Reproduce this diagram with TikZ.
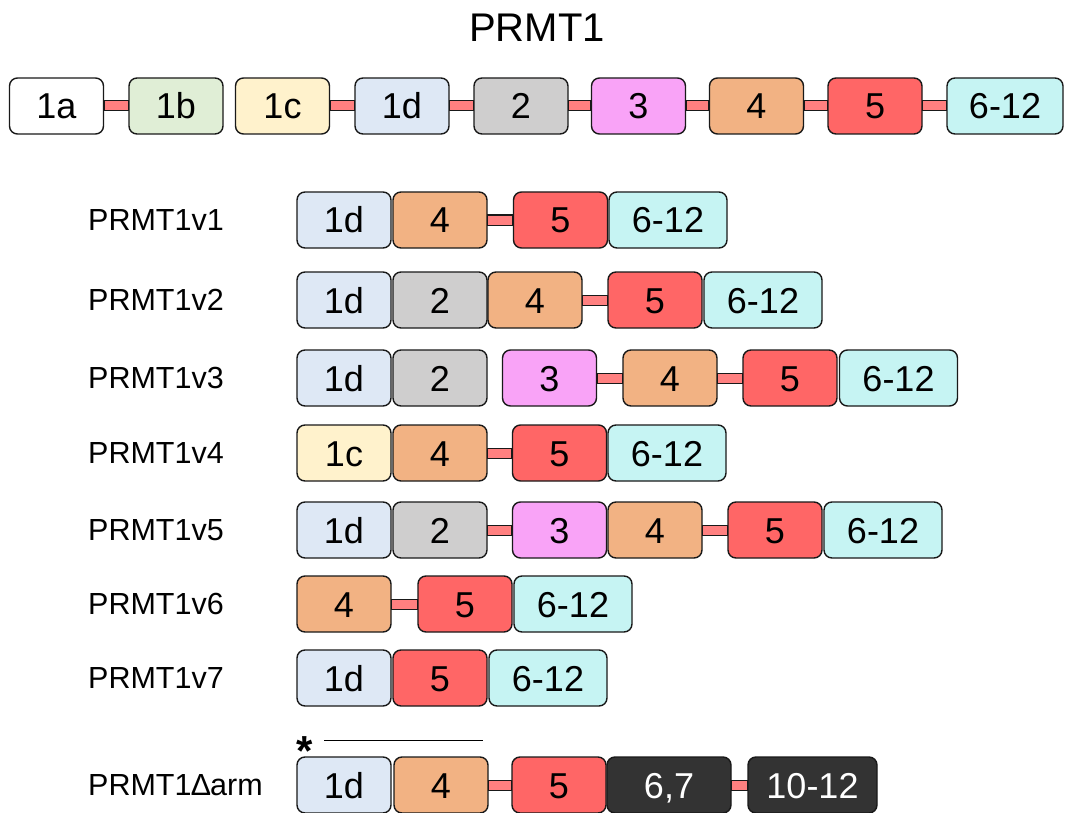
\documentclass[tikz,border=0pt]{standalone}
\usepackage{fontspec}
\setmainfont{Liberation Sans}
\begin{document}
\begin{tikzpicture}[x=1pt,y=-1pt,
  exon/.style={draw=black!90, line width=1.4pt, rounded corners=8pt,
    minimum height=56pt, inner sep=0pt, text height=26pt, text depth=0pt,
    font=\fontsize{36}{36}\selectfont},
  link/.style={draw=black!90, line width=1pt, fill=linkred},
  label/.style={anchor=west, inner sep=0pt, font=\fontsize{30.5}{30.5}\selectfont},
  eA/.style={fill=white},
  eB/.style={fill=exB},
  eC/.style={fill=exC},
  eD/.style={fill=exD},
  eTwo/.style={fill=exTwo},
  eThree/.style={fill=exThree},
  eFour/.style={fill=exFour},
  eFive/.style={fill=exFive},
  eSix/.style={fill=exSix},
  eDark/.style={fill=exDark, text=white},
  w/.style={minimum width=94pt},
  wl/.style={minimum width=118pt},
]
\definecolor{exB}{HTML}{E0EED6}
\definecolor{exC}{HTML}{FFF2CC}
\definecolor{exD}{HTML}{DEE8F5}
\definecolor{exTwo}{HTML}{CFCECE}
\definecolor{exThree}{HTML}{F9A3F7}
\definecolor{exFour}{HTML}{F2B283}
\definecolor{exFive}{HTML}{FF6666}
\definecolor{exSix}{HTML}{C6F4F3}
\definecolor{exDark}{HTML}{333333}
\definecolor{linkred}{HTML}{FF8080}

\useasboundingbox (0,0) rectangle (1065,813);

% link between two neighbouring exons
\newcommand\joinex[2]{\draw[link] ([yshift=-5pt]#1.east) rectangle ([yshift=5pt]#2.west);}

\node[font=\fontsize{40}{40}\selectfont] (title) at (537,28) {PRMT1};

% full gene
\begin{scope}
\node[exon,eA,w]  (g1a) at (56.5,106) {1a};
\node[exon,eB,w]  (g1b) at (176,106) {1b};
\node[exon,eC,w]  (g1c) at (282.5,106) {1c};
\node[exon,eD,w]  (g1d) at (402,106) {1d};
\node[exon,eTwo,w]  (g2) at (521,106) {2};
\node[exon,eThree,w] (g3) at (638.5,106) {3};
\node[exon,eFour,w]  (g4) at (756.5,106) {4};
\node[exon,eFive,w]  (g5) at (875,106) {5};
\node[exon,eSix,minimum width=116pt] (g6) at (1005,106) {6-12};
\end{scope}
\joinex{g1a}{g1b}
\joinex{g1c}{g1d}
\joinex{g1d}{g2}
\joinex{g2}{g3}
\joinex{g3}{g4}
\joinex{g4}{g5}
\joinex{g5}{g6}

% v1
\node[label] (l1) at (88,220) {PRMT1v1};
\node[exon,eD,w] (a1) at (344,220) {1d};
\node[exon,eFour,w] (a2) at (440,220) {4};
\node[exon,eFive,w] (a3) at (560.5,220) {5};
\node[exon,eSix,wl] (a4) at (668,220) {6-12};
\joinex{a2}{a3}

% v2
\node[label] (l2) at (88,300) {PRMT1v2};
\node[exon,eD,w] (b1) at (344,300) {1d};
\node[exon,eTwo,w] (b2) at (440,300) {2};
\node[exon,eFour,w] (b3) at (535,300) {4};
\node[exon,eFive,w] (b4) at (655,300) {5};
\node[exon,eSix,wl] (b5) at (763,300) {6-12};
\joinex{b3}{b4}

% v3
\node[label] (l3) at (88,378) {PRMT1v3};
\node[exon,eD,w] (c1) at (344,378) {1d};
\node[exon,eTwo,w] (c2) at (440,378) {2};
\node[exon,eThree,w] (c3) at (549.5,378) {3};
\node[exon,eFour,w] (c4) at (670,378) {4};
\node[exon,eFive,w] (c5) at (790,378) {5};
\node[exon,eSix,wl] (c6) at (898.5,378) {6-12};
\joinex{c3}{c4}
\joinex{c4}{c5}

% v4
\node[label] (l4) at (88,453) {PRMT1v4};
\node[exon,eC,w] (d1) at (344,453) {1c};
\node[exon,eFour,w] (d2) at (440,453) {4};
\node[exon,eFive,w] (d3) at (559.5,453) {5};
\node[exon,eSix,wl] (d4) at (667,453) {6-12};
\joinex{d2}{d3}

% v5
\node[label] (l5) at (88,530) {PRMT1v5};
\node[exon,eD,w] (e1) at (344,530) {1d};
\node[exon,eTwo,w] (e2) at (440,530) {2};
\node[exon,eThree,w] (e3) at (559.5,530) {3};
\node[exon,eFour,w] (e4) at (655,530) {4};
\node[exon,eFive,w] (e5) at (775,530) {5};
\node[exon,eSix,wl] (e6) at (883,530) {6-12};
\joinex{e2}{e3}
\joinex{e4}{e5}

% v6
\node[label] (l6) at (88,604) {PRMT1v6};
\node[exon,eFour,w] (f1) at (344,604) {4};
\node[exon,eFive,w] (f2) at (465,604) {5};
\node[exon,eSix,wl] (f3) at (573,604) {6-12};
\joinex{f1}{f2}

% v7
\node[label] (l7) at (88,678) {PRMT1v7};
\node[exon,eD,w] (h1) at (344,678) {1d};
\node[exon,eFive,w] (h2) at (440,678) {5};
\node[exon,eSix,wl] (h3) at (548,678) {6-12};

% delta arm
\node[font=\bfseries\fontsize{42}{42}\selectfont, inner sep=0pt] (star) at (305,751) {*};
\coordinate (barL) at (324,740);
\coordinate (barR) at (483,740);
\draw[line width=1pt] (barL) -- (barR);
\node[label] (l8) at (88,785) {PRMT1∆arm};
\node[exon,eD,w] (k1) at (344,785) {1d};
\node[exon,eFour,w] (k2) at (441,785) {4};
\node[exon,eFive,w] (k3) at (559,785) {5};
\node[exon,eDark,minimum width=124pt] (k4) at (669,785) {6,7};
\node[exon,eDark,minimum width=129pt] (k5) at (812.5,785) {10-12};
\joinex{k2}{k3}
\joinex{k4}{k5}
\end{tikzpicture}
\end{document}
